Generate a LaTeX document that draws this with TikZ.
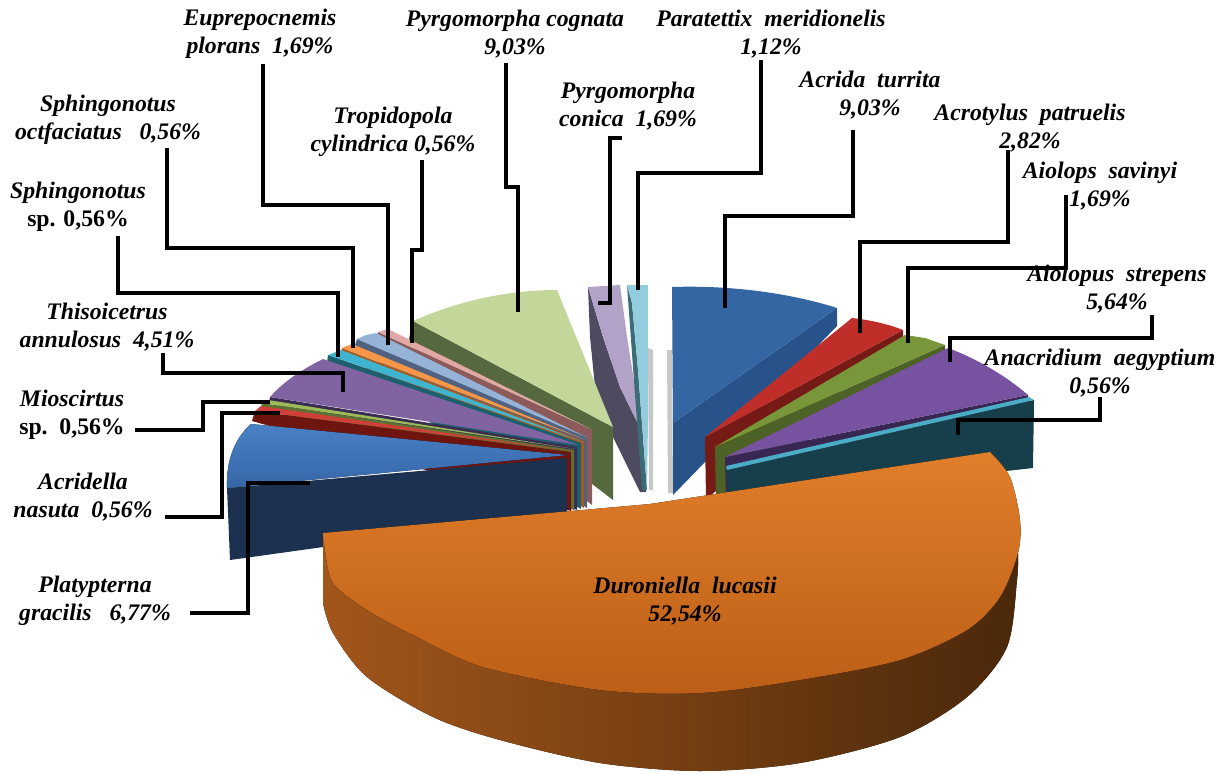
\documentclass[tikz,border=0pt]{standalone}
\usepackage{fontspec}
\setmainfont{Liberation Serif}
% slice colours
\definecolor{cogtopc}{HTML}{C4D79B}  \definecolor{cogwallc}{HTML}{56683E}
\definecolor{trotopc}{HTML}{E2A8A6}  \definecolor{trowallc}{HTML}{8C5A5A}
\definecolor{euptopc}{HTML}{95B3D7}  \definecolor{eupwallc}{HTML}{4F6282}
\definecolor{octtopc}{HTML}{F79646}  \definecolor{octwallc}{HTML}{A85A1C}
\definecolor{sphtopc}{HTML}{3FB4D0}  \definecolor{sphwallc}{HTML}{1C5F6E}
\definecolor{thitopc}{HTML}{8064A2}  \definecolor{thiwallc}{HTML}{3B2C52}
\definecolor{miotopc}{HTML}{9BBB59}  \definecolor{miowallc}{HTML}{5C7230}
\definecolor{acritopc}{HTML}{D0403A} \definecolor{acriwallc}{HTML}{6E1510}
\definecolor{platopc}{HTML}{4A80C4}  \definecolor{plabotc}{HTML}{3566A8}
\definecolor{plawallc}{HTML}{1C3150}
\definecolor{contopc}{HTML}{B3A2C7}  \definecolor{conwallc}{HTML}{4E4A60}
\definecolor{partopc}{HTML}{93CDDD}  \definecolor{parwallc}{HTML}{3C6C76}
\definecolor{turtopc}{HTML}{3466A4}  \definecolor{turwallc}{HTML}{28538A}
\definecolor{pattopc}{HTML}{BF2E29}  \definecolor{patwallc}{HTML}{761A16}
\definecolor{savtopc}{HTML}{78963A}  \definecolor{savwallc}{HTML}{4C6226}
\definecolor{strtopc}{HTML}{7652A0}  \definecolor{strwallc}{HTML}{382653}
\definecolor{aegtopc}{HTML}{4BACC6}  \definecolor{aegwallc}{HTML}{173F4B}
\definecolor{durlight}{HTML}{E07E2A} \definecolor{durmid}{HTML}{BC5E16}
\definecolor{durside}{HTML}{A2561A}  \definecolor{durdark}{HTML}{4A280B}
\tikzset{
  leader/.style = {line width=2.8pt, black, line join=miter},
  lbl/.style = {font=\fontsize{13.5}{16}\selectfont\bfseries\itshape,
    align=center, inner sep=0pt},
  shade/.style = {fill=black!22}
}

\begin{document}
\begin{tikzpicture}[x=0.02cm, y=-0.02cm]
  \useasboundingbox (0,0) rectangle (1224,772);

  % back slices
  \fill[conwallc] (588,287) -- (590,337) -- (595,387) -- (613,437)
    -- (640,492) -- (646,492) -- (641,430) -- (620,387) -- (603,337) -- cycle;
  \fill[contopc] (588,287) -- (620,285) -- (627,337) -- (635,387)
    -- (641,430) -- (620,387) -- (603,337) -- cycle;
  \fill[shade] (648,348) -- (653,350) -- (653,490) -- (649,490) -- cycle;
  \fill[parwallc] (627,285) -- (642,490) -- (647,490) -- (638,370)
    -- (632,303) -- cycle;
  \fill[partopc] (627,285) -- (648,285) -- (648,420) -- (647,490)
    -- (638,370) -- (632,303) -- cycle;

  % left side, back to front
  \fill[cogwallc] (413,321) -- (613,427) -- (613,500) -- (408,343) -- cycle;
  \fill[cogtopc] (413,321) .. controls (460,300) and (510,290) .. (557,290)
    -- (613,427) -- cycle;
  \fill[trowallc] (378,332) -- (592,430) -- (592,505) -- (377,338) -- cycle;
  \fill[trotopc] (378,332) -- (388,329) -- (593,430) -- cycle;
  \fill[eupwallc] (357,339) -- (587,437) -- (587,508) -- (355,345) -- cycle;
  \fill[euptopc] (357,339) -- (366,335) -- (376,333) -- (588,438) -- cycle;
  \fill[octwallc] (342,348) -- (584,441) -- (584,508) -- (341,352) -- cycle;
  \fill[octtopc] (342,348) -- (352,344) -- (586,440) -- cycle;
  \fill[sphwallc] (328,355) -- (581,443) -- (581,509) -- (327,363) -- cycle;
  \fill[sphtopc] (328,355) -- (341,350) -- (583,442) -- cycle;
  \fill[thiwallc] (270,397) -- (577,447) -- (577,510) -- (269,402) -- cycle;
  \fill[thitopc] (270,397) .. controls (285,380) and (305,368) .. (323,359)
    -- (579,445) -- cycle;
  \fill[miowallc] (262,403) -- (574,450) -- (574,510) -- (261,407) -- cycle;
  \fill[miotopc] (262,403) -- (268,400) -- (575,449) -- cycle;
  \fill[acriwallc] (255,411) -- (571,452) -- (571,511) -- (252,421) -- cycle;
  \fill[acritopc] (255,411) -- (261,406) -- (572,451) -- cycle;
  \fill[plawallc] (227,488) -- (567,458) -- (567,513) -- (230,560) -- cycle;
  \fill[top color=platopc, bottom color=plabotc]
    (227,488) .. controls (226,460) and (235,438) .. (251,424)
    -- (568,455) -- cycle;

  % right side, back to front
  \fill[shade] (667,350) -- (672,350) -- (673,493) -- (668,493) -- cycle;
  \fill[turwallc] (837,308) -- (837,326) -- (673,495) -- (673,423) -- cycle;
  \fill[turtopc] (672,287) .. controls (730,285) and (790,293) .. (837,308)
    -- (673,423) -- cycle;
  \fill[patwallc] (903,330) -- (903,340) -- (706,499) -- (705,437) -- cycle;
  \fill[pattopc] (852,318) .. controls (870,320) and (888,324) .. (903,330)
    -- (705,437) -- cycle;
  \fill[savwallc] (945,345) -- (945,353) -- (716,499) -- (715,447) -- cycle;
  \fill[savtopc] (905,335) -- (925,338) -- (945,345) -- (715,447) -- cycle;
  \fill[strwallc] (1028,395) -- (1029,403) -- (726,499) -- (725,457) -- cycle;
  \fill[strtopc] (948,348) .. controls (975,358) and (1005,375) .. (1028,395)
    -- (725,457) -- cycle;
  \fill[aegwallc] (1034,400) -- (1033,468) -- (728,502) -- (727,470) -- cycle;
  \fill[aegtopc] (1029,397) -- (1034,400) -- (727,470) -- (726,466) -- cycle;

  % front slice
  \fill[left color=durside, right color=durdark]
    plot[smooth] coordinates {(323,533) (325,550) (333,583) (367,610)
      (417,637) (483,667) (600,690) (700,693) (800,680) (900,660)
      (967,630) (1000,597) (1018,553)}
    -- plot[smooth] coordinates {(1018,553) (1017,580) (1007,647) (967,697)
      (900,737) (800,763) (700,771) (600,763) (500,740) (433,717)
      (367,677) (333,633) (323,603)} -- cycle;
  \fill[top color=durlight, bottom color=durmid]
    (323,533) -- (650,504) -- plot[smooth] coordinates {(990,452) (1010,477)
      (1020,520) (1018,553) (1000,597) (967,630) (900,660) (800,680)
      (700,693) (600,690) (483,667) (417,637) (367,610) (333,583)
      (325,550) (323,533)} -- cycle;

  % labels
  \node[lbl] (eup) at (260,34) {Euprepocnemis\\plorans\ \ 1,69\%};
  \node[lbl] (cog) at (515,34) {Pyrgomorpha cognata\\9,03\%};
  \node[lbl] (par) at (771,34) {Paratettix\ \ meridionelis\\1,12\%};
  \node[lbl] (oct) at (108,120) {Sphingonotus\\octfaciatus\ \ \ 0,56\%};
  \node[lbl] (tro) at (393,132) {Tropidopola\\cylindrica 0,56\%};
  \node[lbl] (con) at (628,106) {Pyrgomorpha\\conica\ \ 1,69\%};
  \node[lbl] (sph) at (78,207) {Sphingonotus\\\upshape sp. 0,56\%};
  \node[lbl] (tur) at (870,95) {Acrida\ \ turrita\\9,03\%};
  \node[lbl] (pat) at (1030,128) {Acrotylus\ \ patruelis\\2,82\%};
  \node[lbl] (sav) at (1100,186) {Aiolops\ \ savinyi\\1,69\%};
  \node[lbl] (str) at (1117,289) {Aiolopus\ \ strepens\\5,64\%};
  \node[lbl] (aeg) at (1100,373) {Anacridium\ \ aegyptium\\0,56\%};
  \node[lbl] (thi) at (107,327) {Thisoicetrus\\annulosus\ \ 4,51\%};
  \node[lbl] (mio) at (72,415) {Mioscirtus\\\upshape sp.\ \ 0,56\%};
  \node[lbl] (acri) at (83,497) {Acridella\\nasuta\ \ 0,56\%};
  \node[lbl] (pla) at (95,601) {Platypterna\\gracilis\ \ \ 6,77\%};
  \node[lbl] (dur) at (685,601) {Duroniella\ \ lucasii\\52,54\%};

  % leader ends
  \coordinate (eupA) at (263,64);   \coordinate (eupB) at (388,345);
  \coordinate (cogA) at (506,63);   \coordinate (cogB) at (518,312);
  \coordinate (parA) at (761,60);   \coordinate (parB) at (638,290);
  \coordinate (octA) at (167,148);  \coordinate (octB) at (353,348);
  \coordinate (troA) at (422,160);  \coordinate (troB) at (412,343);
  \coordinate (conA) at (622,138);  \coordinate (conB) at (598,303);
  \coordinate (sphA) at (118,236);  \coordinate (sphB) at (338,357);
  \coordinate (turA) at (853,130);  \coordinate (turB) at (725,308);
  \coordinate (patA) at (1008,150); \coordinate (patB) at (860,333);
  \coordinate (savA) at (1066,195); \coordinate (savB) at (908,343);
  \coordinate (strA) at (1152,315); \coordinate (strB) at (950,362);
  \coordinate (aegA) at (1100,397); \coordinate (aegB) at (958,435);
  \coordinate (thiA) at (163,353);  \coordinate (thiB) at (343,392);
  \coordinate (mioA) at (135,430);  \coordinate (mioB) at (270,402);
  \coordinate (acriA) at (165,517); \coordinate (acriB) at (280,413);
  \coordinate (plaA) at (190,613);  \coordinate (plaB) at (310,483);

  % leaders
  \draw[leader] (eupA) -- ++(0,141) -| (eupB);
  \draw[leader] (cogA) -- ++(0,124) -| (cogB);
  \draw[leader] (parA) -- ++(0,113) -| (parB);
  \draw[leader] (octA) -- ++(0,100) -| (octB);
  \draw[leader] (troA) -- ++(0,90) -| (troB);
  \draw[leader] (conA) -- ++(-12,0) |- (conB);
  \draw[leader] (sphA) -- ++(0,57) -| (sphB);
  \draw[leader] (turA) -- ++(0,86) -| (turB);
  \draw[leader] (patA) -- ++(0,92) -| (patB);
  \draw[leader] (savA) -- ++(0,73) -| (savB);
  \draw[leader] (strA) -- ++(0,23) -| (strB);
  \draw[leader] (aegA) -- ++(0,23) -| (aegB);
  \draw[leader] (thiA) -- ++(0,20) -| (thiB);
  \draw[leader] (mioA) -- ++(68,0) |- (mioB);
  \draw[leader] (acriA) -- ++(57,0) |- (acriB);
  \draw[leader] (plaA) -- ++(58,0) |- (plaB);
\end{tikzpicture}
\end{document}
